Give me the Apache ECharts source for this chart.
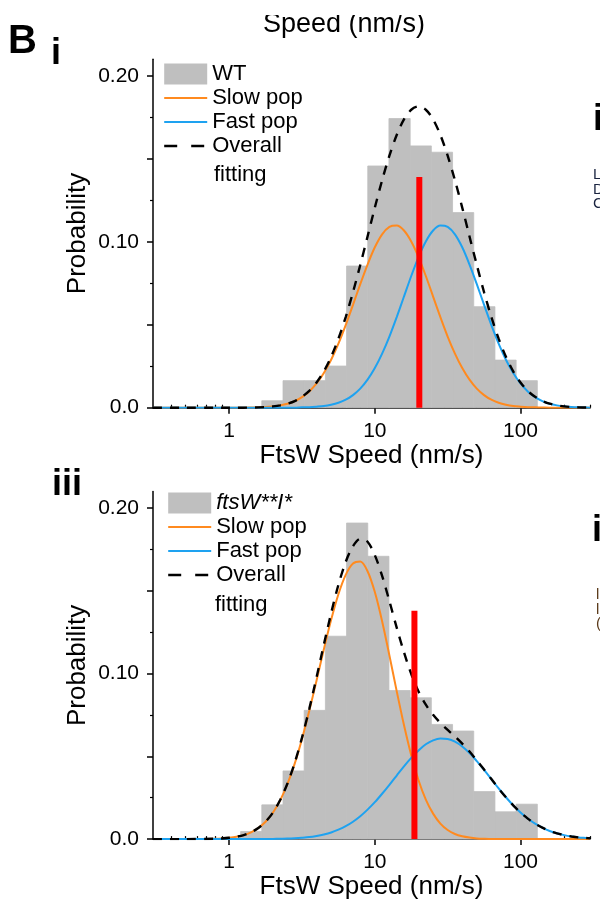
<!DOCTYPE html>
<html>
<head>
<meta charset="utf-8">
<script src="https://cdn.jsdelivr.net/npm/echarts@6/dist/echarts.min.js"></script>
<style>
html,body{margin:0;padding:0;background:#fff;}
#chart{width:600px;height:901px;}
</style>
</head>
<body>
<div id="chart"></div>
<script>
// ---------- data ----------
// histogram bin edges (nm/s, log-spaced)
var binEdges = [1.198, 1.675, 2.342, 3.273, 4.576, 6.397, 8.943, 12.50, 17.48, 24.43, 34.16, 47.75, 66.75, 93.33, 130.5];
// probability per bin (panel i: WT, panel iii: ftsW**I*)
var wtProb  = [0, 0.0042, 0.0163, 0.0163, 0.0251, 0.0854, 0.1457, 0.1743, 0.1578, 0.1540, 0.1176, 0.0609, 0.0287, 0.0163];
var mutProb = [0.0046, 0.0207, 0.0412, 0.0778, 0.1226, 0.1910, 0.1709, 0.0898, 0.0854, 0.0693, 0.0653, 0.0287, 0.0165, 0.0211];
// speeds (nm/s) at which the fitted curves were read
var speedGrid = [0.3, 0.5, 0.794, 0.891, 1, 1.122, 1.259, 1.413, 1.585, 1.778, 1.995, 2.239, 2.512, 2.818, 3.162, 3.548, 3.981, 4.467, 5.012, 5.623, 6.310, 7.079, 7.943, 8.913, 10, 11.22, 12.59, 14.13, 15.85, 17.78, 19.95, 22.39, 25.12, 28.18, 31.62, 35.48, 39.81, 44.67, 50.12, 56.23, 63.10, 70.79, 79.43, 89.13, 100, 112.2, 125.9, 141.3, 158.5, 177.8, 199.5, 223.9, 251.2, 281.8, 300];
var wtSlow = [0,0, 0,0,0,0,0, 0.0001,0.0002,0.0004,0.0008,0.0014,0.0024,0.0040,0.0064,0.0098,0.0146,0.0209,0.0289,0.0386,0.0498,0.0620,0.0745,0.0863,0.0967,0.1045,0.1090,0.1098,0.1068,0.1002,0.0908,0.0794,0.0670,0.0546,0.0429,0.0326,0.0239,0.0169,0.0115,0.0076,0.0048,0.0030,0.0018,0.0010,0.0006,0.0003,0.0002,0.0001, 0,0,0,0,0,0, 0];
var wtFast = [0,0, 0,0,0,0,0,0,0,0,0,0,0,0, 0.0002,0.0003,0.0006,0.0010,0.0018,0.0030,0.0048,0.0076,0.0115,0.0169,0.0239,0.0326,0.0429,0.0546,0.0670,0.0794,0.0908,0.1002,0.1068,0.1098,0.1090,0.1045,0.0967,0.0863,0.0745,0.0620,0.0498,0.0386,0.0289,0.0209,0.0146,0.0098,0.0064,0.0040,0.0024,0.0014,0.0008,0.0004,0.0002,0.0001, 0];
var wtOverall = [0,0, 0,0,0,0,0, 0.0001,0.0002,0.0004,0.0008,0.0014,0.0024,0.0040,0.0066,0.0101,0.0152,0.0219,0.0307,0.0416,0.0546,0.0696,0.0860,0.1032,0.1206,0.1371,0.1519,0.1644,0.1738,0.1796,0.1816,0.1796,0.1738,0.1644,0.1519,0.1371,0.1206,0.1032,0.0860,0.0696,0.0546,0.0416,0.0307,0.0219,0.0152,0.0101,0.0066,0.0041,0.0024,0.0014,0.0008,0.0004,0.0002,0.0001, 0];
var mutSlow = [0,0, 0.0002,0.0004,0.0008,0.0014,0.0024,0.0041,0.0067,0.0105,0.0159,0.0234,0.0333,0.0456,0.0605,0.0775,0.0959,0.1147,0.1325,0.1480,0.1597,0.1665,0.1677,0.1619,0.1493,0.1317,0.1110,0.0894,0.0689,0.0507,0.0356,0.0239,0.0154,0.0094,0.0055,0.0031,0.0017,0.0009,0.0004,0.0002,0.0001, 0,0,0,0,0,0,0,0,0,0,0,0,0, 0];
var mutFast = [0,0, 0,0,0,0,0,0,0,0, 0.0001,0.0002,0.0003,0.0005,0.0008,0.0012,0.0019,0.0028,0.0040,0.0057,0.0078,0.0105,0.0138,0.0178,0.0223,0.0274,0.0328,0.0384,0.0440,0.0491,0.0536,0.0573,0.0597,0.0608,0.0605,0.0589,0.0560,0.0520,0.0471,0.0418,0.0362,0.0306,0.0253,0.0204,0.0161,0.0124,0.0093,0.0069,0.0049,0.0035,0.0024,0.0016,0.0010,0.0007, 0.0005];
var mutOverall = [0,0, 0.0002,0.0004,0.0008,0.0014,0.0024,0.0041,0.0067,0.0105,0.0160,0.0236,0.0336,0.0461,0.0613,0.0787,0.0978,0.1175,0.1365,0.1537,0.1675,0.1770,0.1815,0.1797,0.1716,0.1591,0.1438,0.1278,0.1129,0.0998,0.0892,0.0812,0.0751,0.0702,0.0660,0.0620,0.0577,0.0529,0.0475,0.0420,0.0363,0.0306,0.0253,0.0204,0.0161,0.0124,0.0093,0.0069,0.0049,0.0035,0.0024,0.0016,0.0010,0.0007, 0.0005];
// red vertical marker: [speed, height]
var wtMarker  = [20.2, 0.139];
var mutMarker = [18.7, 0.138];
// axis ticks / labels
var xMajorTicks = [1, 10, 100];
var xMinorTicks = [0.4,0.5,0.6,0.7,0.8,0.9,2,3,4,5,6,7,8,9,20,30,40,50,60,70,80,90,200,300];
var yMajorTicks = [0, 0.05, 0.10, 0.15, 0.20];
var yMinorTicks = [0.025, 0.075, 0.125, 0.175];
var yLabels = [0, 0.10, 0.20];

// ---------- build ----------
var FONT = '"Liberation Sans", Arial, Helvetica, sans-serif';
var ORANGE = '#ff8a1f', BLUE = '#1ea2f0', GRAY = '#bfbfbf';

function histData(probs) {
  var out = [];
  for (var i = 0; i < probs.length; i++) out.push([binEdges[i], binEdges[i + 1], probs[i]]);
  return out;
}
function pairs(vals) { return speedGrid.map(function (s, i) { return [s, vals[i]]; }); }

function renderBar(params, api) {
  var p0 = api.coord([api.value(0), 0]);
  var p1 = api.coord([api.value(1), api.value(2)]);
  return { type: 'rect', shape: { x: p0[0], y: p1[1], width: p1[0] - p0[0], height: p0[1] - p1[1] },
    style: { fill: GRAY, stroke: GRAY, lineWidth: 0.8 } };
}

var gridTops = [59.3, 491.6];
var grids = [], xAxes = [], yAxes = [];
gridTops.forEach(function (t, g) {
  grids.push({ left: 153, right: 10, top: t, height: 348.4 });
  xAxes.push({
    type: 'log', logBase: 10, min: 0.3, max: 300, gridIndex: g,
    name: 'FtsW Speed (nm/s)', nameLocation: 'middle', nameGap: 34,
    nameTextStyle: { fontFamily: FONT, fontSize: 26, color: '#000' },
    axisLine: { lineStyle: { color: '#000', width: 1.5 } },
    axisTick: { customValues: xMajorTicks, length: 6, lineStyle: { color: '#000', width: 1.5 } },
    axisLabel: { customValues: xMajorTicks, fontFamily: FONT, fontSize: 21, color: '#000', margin: 13,
      formatter: function (v) { return String(Math.round(v)); } },
    splitLine: { show: false }, minorTick: { show: false }
  });
  xAxes.push({
    type: 'log', logBase: 10, min: 0.3, max: 300, gridIndex: g,
    axisLine: { show: false },
    axisTick: { customValues: xMinorTicks, length: 3, lineStyle: { color: '#000', width: 1.2 } },
    axisLabel: { show: false }, splitLine: { show: false }
  });
  yAxes.push({
    type: 'value', min: 0, max: 0.21, gridIndex: g, position: 'left',
    name: 'Probability', nameLocation: 'middle', nameGap: 62, nameMoveOverlap: false,
    nameTextStyle: { fontFamily: FONT, fontSize: 26, color: '#000' },
    axisLine: { show: true, lineStyle: { color: '#000', width: 1.5 } },
    axisTick: { show: true, customValues: yMajorTicks, length: 6, lineStyle: { color: '#000', width: 1.5 } },
    axisLabel: { customValues: yLabels, fontFamily: FONT, fontSize: 21, color: '#000', margin: 14,
      formatter: function (v) { return v === 0 ? '0.0' : v.toFixed(2); } },
    splitLine: { show: false }
  });
  yAxes.push({
    type: 'value', min: 0, max: 0.21, gridIndex: g, position: 'left', offset: 0,
    axisLine: { show: false },
    axisTick: { show: true, customValues: yMinorTicks, length: 3, lineStyle: { color: '#000', width: 1.2 } },
    axisLabel: { show: false }, splitLine: { show: false }
  });
});

var series = [];
function addPanel(g, histName, probs, slow, fast, overall, marker) {
  var xi = g * 2, yi = g * 2;
  series.push({ name: histName, type: 'custom', xAxisIndex: xi, yAxisIndex: yi,
    renderItem: renderBar, itemStyle: { color: GRAY }, encode: { x: [0, 1], y: 2 },
    data: histData(probs), z: 1 });
  series.push({ name: 'Slow pop', type: 'line', xAxisIndex: xi, yAxisIndex: yi, data: pairs(slow),
    smooth: 0.3, symbol: 'none', lineStyle: { color: ORANGE, width: 2 }, itemStyle: { color: ORANGE }, z: 2 });
  series.push({ name: 'Fast pop', type: 'line', xAxisIndex: xi, yAxisIndex: yi, data: pairs(fast),
    smooth: 0.3, symbol: 'none', lineStyle: { color: BLUE, width: 2 }, itemStyle: { color: BLUE }, z: 2 });
  series.push({ name: 'Overall fitting', type: 'line', xAxisIndex: xi, yAxisIndex: yi, data: pairs(overall),
    smooth: 0.3, symbol: 'none', lineStyle: { color: '#000', width: 2.4, type: [9, 8] }, itemStyle: { color: '#000' }, z: 3 });
  series.push({ name: 'marker' + g, type: 'line', xAxisIndex: xi, yAxisIndex: yi,
    data: [[marker[0], 0], [marker[0], marker[1]]], symbol: 'none',
    lineStyle: { color: '#ff0000', width: 6, cap: 'butt' }, z: 4 });
}
addPanel(0, 'WT', wtProb, wtSlow, wtFast, wtOverall, wtMarker);
addPanel(1, 'ftsW**I*', mutProb, mutSlow, mutFast, mutOverall, mutMarker);

var hiddenDot = { color: 'rgba(0,0,0,0)', borderWidth: 0, opacity: 0 };
function legendFor(histName, left, top, italic) {
  return {
    orient: 'vertical', left: left, top: top, itemWidth: 43, itemHeight: 21, itemGap: 2, padding: 0,
    selectedMode: false,
    textStyle: { fontFamily: FONT, fontSize: 22, color: '#000' },
    formatter: function (n) { return n === 'Overall fitting' ? 'Overall' : n; },
    data: [
      { name: histName, icon: 'rect', itemStyle: { color: GRAY }, textStyle: italic ? { fontStyle: 'italic' } : {} },
      { name: 'Slow pop', itemStyle: hiddenDot, lineStyle: { width: 2 } },
      { name: 'Fast pop', itemStyle: hiddenDot, lineStyle: { width: 2 } },
      { name: 'Overall fitting', itemStyle: hiddenDot, lineStyle: { width: 2.4, type: [13, 14] } }
    ]
  };
}

function txt(text, x, y, size, bold, extra) {
  var s = { text: text, x: x, y: y, font: (bold ? 'bold ' : '') + size + 'px ' + FONT, fill: '#000', align: 'left', verticalAlign: 'middle' };
  if (extra) for (var k in extra) s[k] = extra[k];
  return { type: 'text', style: s, z: 10 };
}

var graphics = [
  txt('Speed (nm/s)', 263, 25, 27, false),
  { type: 'rect', shape: { x: 240, y: 0, width: 220, height: 15 }, style: { fill: '#fff' }, z: 11 },
  txt('B', 8, 42, 40, true),
  txt('i', 51, 54, 36, true),
  txt('iii', 52, 485, 36, true),
  txt('fitting', 214, 175, 22, false),
  txt('fitting', 215, 605, 22, false),
  txt('i', 593, 120, 36, true),
  txt('i', 592, 531, 36, true),
  txt('L', 593, 175, 15, false, { fill: '#1a2440' }),
  txt('D', 593, 190, 15, false, { fill: '#1a2440' }),
  txt('C', 593, 204, 15, false, { fill: '#1a2440' }),
  txt('l', 596, 595, 15, false, { fill: '#5a3a1a' }),
  txt('l', 596, 610, 15, false, { fill: '#5a3a1a' }),
  txt('(', 596, 624, 15, false, { fill: '#5a3a1a' })
];

var chart = echarts.init(document.getElementById('chart'), null, { renderer: 'canvas' });
chart.setOption({
  animation: false,
  backgroundColor: '#fff',
  grid: grids,
  xAxis: xAxes,
  yAxis: yAxes,
  legend: [legendFor('WT', 163, 63, false), legendFor('ftsW**I*', 167, 492, true)],
  series: series,
  graphic: graphics
});
</script>
</body>
</html>
